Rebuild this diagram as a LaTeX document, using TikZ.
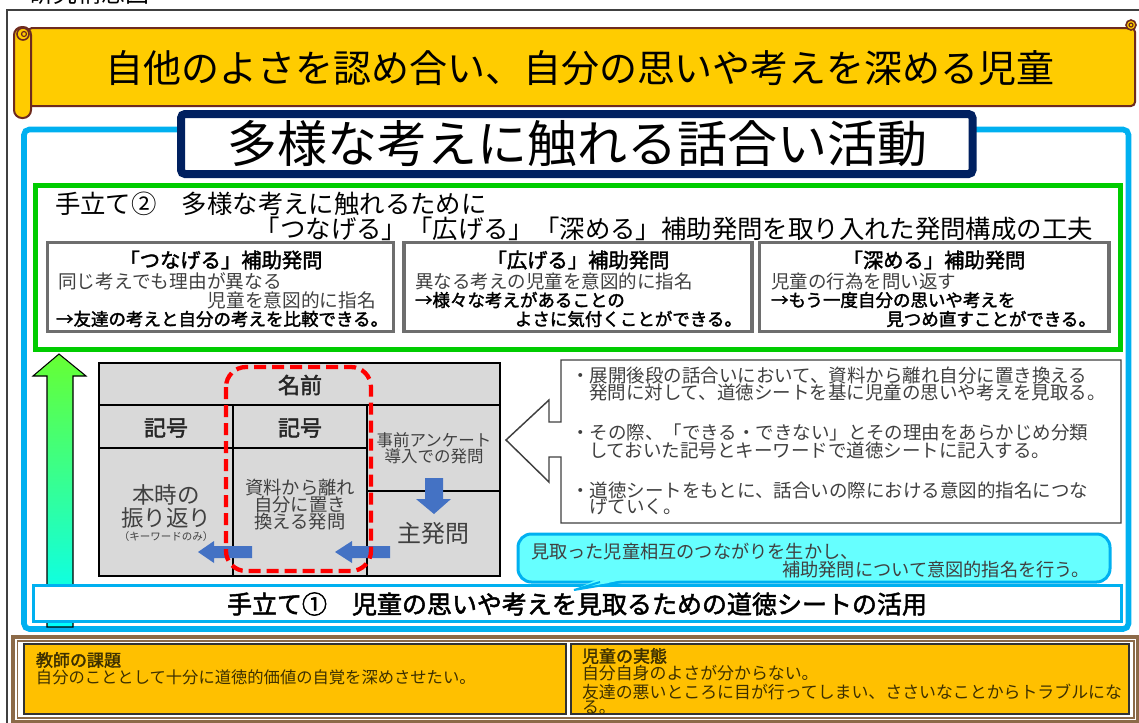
\documentclass[tikz,border=0pt]{standalone}
\usepackage{fontspec}
\setmainfont[AutoFakeBold=2]{Noto Sans CJK JP}
\newcommand\fpx[1]{\fontsize{\dimexpr #1pt*3/4\relax}{\dimexpr #1pt*9/10\relax}\selectfont}
\definecolor{banY}{HTML}{FFCC00}
\definecolor{banB}{HTML}{6E2B1E}
\definecolor{skyB}{HTML}{00B0F0}
\definecolor{navyB}{HTML}{002060}
\definecolor{grnB}{HTML}{00CC00}
\definecolor{tblG}{HTML}{D9D9D9}
\definecolor{arrB}{HTML}{4472C4}
\definecolor{calC}{HTML}{66FFFF}
\definecolor{botY}{HTML}{FFC000}
\definecolor{botB}{HTML}{8C6A48}
\definecolor{txtG}{HTML}{404040}
\definecolor{txtO}{HTML}{3D3000}
\definecolor{boxG}{HTML}{6E6E6E}
\definecolor{arrTop}{HTML}{66FF33}
\definecolor{arrBot}{HTML}{00FFFF}
\tikzset{
  every node/.style={inner sep=0pt, outer sep=0pt},
  tx/.style={text=txtG},
  bx/.style={text=black, font=\bfseries},
  ot/.style={text=txtO},
  grayframe/.style={boxG, line width=2.4pt},
  bluearrow/.style={fill=arrB, draw=none},
}
\begin{document}
\begin{tikzpicture}[x=0.75pt,y=-0.75pt]
\useasboundingbox (0,0) rectangle (1139,722);
% outer frame
\draw[black!75, line width=0.8pt] (7,10) rectangle (1150,740);
\node (head) at (89,-7) {\fpx{24}研究構想図};
% blue frame
\draw[skyB, line width=4.2pt, rounded corners=4pt] (24,129.5) rectangle (1128.5,629);
% banner
\draw[banB, fill=banY, line width=1.5pt, rounded corners=3pt] (28,28) rectangle (1135,106);
\draw[banB, fill=banY, line width=1.2pt] (1131,25) circle (5);
\draw[banB, line width=0.9pt] (1131,25) circle (2);
\draw[banB, fill=banY, line width=1.5pt, rounded corners=6pt] (14,27) rectangle (31,118);
\draw[banB, fill=banY, line width=1.2pt] (23,34) circle (6);
\draw[banB, line width=0.9pt] (24,34) circle (2.5);
\node (bantext) at (580,68) {\fpx{38}自他のよさを認め合い、自分の思いや考えを深める児童};
% title box
\draw[navyB, line width=6pt, fill=white, rounded corners=3pt] (181,114) rectangle (972.5,174);
\node (title) at (577,144) {\fpx{50}多様な考えに触れる話合い活動};
% green frame
\draw[grnB, line width=3.75pt] (35,185.5) rectangle (1120.5,349.5);
\node[anchor=west] (g1) at (55,204) {\fpx{25.4}手立て②　多様な考えに触れるために};
\node[anchor=east] (g2) at (1093,229) {\fpx{25.4}「つなげる」「広げる」「深める」補助発問を取り入れた発問構成の工夫};
% three boxes
\draw[grayframe] (47.5,242.5) rectangle (393.5,331.5);
\draw[grayframe] (404,242.5) rectangle (752,331.5);
\draw[grayframe] (759.5,242.5) rectangle (1109,331.5);
\node[bx] (t1) at (221,260) {\fpx{20.3}「つなげる」補助発問};
\node[bx] (t2) at (578,260) {\fpx{20.3}「広げる」補助発問};
\node[bx] (t3) at (934,260) {\fpx{20.3}「深める」補助発問};
\node[tx, anchor=west] (b1a) at (58,281) {\fpx{18.7}同じ考えでも理由が異なる};
\node[tx, anchor=east] (b1b) at (376,300) {\fpx{18.7}児童を意図的に指名};
\node[bx, anchor=west] (b1c) at (56,319) {\fpx{17.5}→友達の考えと自分の考えを比較できる。};
\node[tx, anchor=west] (b2a) at (415,281) {\fpx{18.5}異なる考えの児童を意図的に指名};
\node[bx, anchor=west] (b2b) at (415,300) {\fpx{17.5}→様々な考えがあることの};
\node[bx, anchor=east] (b2c) at (742,319) {\fpx{17.5}よさに気付くことができる。};
\node[tx, anchor=west] (b3a) at (771,281) {\fpx{18.5}児童の行為を問い返す};
\node[bx, anchor=west] (b3b) at (771,300) {\fpx{17.5}→もう一度自分の思いや考えを};
\node[bx, anchor=east] (b3c) at (1096,319) {\fpx{17.5}見つめ直すことができる。};
% gradient up arrow
\path[draw=black, line width=0.8pt, top color=arrTop, bottom color=arrBot]
  (59,354) -- (86,376) -- (73,376) -- (73,627) -- (47,627) -- (47,376) -- (33,376) -- cycle;
% table
\draw[black, fill=tblG, line width=1.6pt] (99,363) rectangle (500,576);
\draw[black, line width=1.1pt] (99,405) -- (500,405);
\draw[black, line width=1.1pt] (233,405) -- (233,576);
\draw[black, line width=1.1pt] (367,405) -- (367,576);
\draw[black, line width=1.1pt] (99,448) -- (367,448);
\draw[black, line width=1.1pt] (367,491) -- (500,491);
\node[bx, text=black!85] (name) at (300,385) {\fpx{22}名前};
\node[bx, text=black!85] (kigo1) at (166,428) {\fpx{22}記号};
\node[bx, text=black!85] (kigo2) at (300,428) {\fpx{22}記号};
\node[tx] (pre1) at (434,440) {\fpx{16.5}事前アンケート};
\node[tx] (pre2) at (434,456) {\fpx{16.5}導入での発問};
\node[tx] (main) at (433,533) {\fpx{24}主発問};
\node[tx] (refl1) at (166,495) {\fpx{22.5}本時の};
\node[tx] (refl2) at (166,518) {\fpx{22.5}振り返り};
\node[tx] (refl3) at (166,536) {\fpx{10.5}（キーワードのみ）};
\node[tx] (mat1) at (300,488) {\fpx{18.3}資料から離れ};
\node[tx] (mat2) at (300,505) {\fpx{18.3}自分に置き};
\node[tx] (mat3) at (300,522) {\fpx{18.3}換える発問};
\draw[bluearrow] (425,478) -- (443,478) -- (443,499) -- (451,499) -- (434,514) -- (416,499) -- (425,499) -- cycle;
\draw[bluearrow] (252,546) -- (214,546) -- (214,541) -- (198,552) -- (214,563) -- (214,558) -- (252,558) -- cycle;
\draw[bluearrow] (390,546) -- (352,546) -- (352,541) -- (335,552) -- (352,563) -- (352,558) -- (390,558) -- cycle;
\draw[red, line width=3.2pt, dash pattern=on 9pt off 4.5pt, rounded corners=15pt] (226,367) rectangle (371,571);
% block arrow with text
\draw[fill=white, draw=txtG, line width=1.1pt] (561,360) -- (1121,360) -- (1121,523) -- (561,523) -- (561,457) -- (549,457) -- (549,482) -- (506,440) -- (549,400) -- (549,422) -- (561,422) -- cycle;
\node[tx, anchor=west] (r1) at (571,375) {\fpx{18.5}・展開後段の話合いにおいて、資料から離れ自分に置き換える};
\node[tx, anchor=west] (r2) at (589,393) {\fpx{18.5}発問に対して、道徳シートを基に児童の思いや考えを見取る。};
\node[tx, anchor=west] (r3) at (571,432) {\fpx{18.5}・その際、「できる・できない」とその理由をあらかじめ分類};
\node[tx, anchor=west] (r4) at (589,450) {\fpx{18.5}しておいた記号とキーワードで道徳シートに記入する。};
\node[tx, anchor=west] (r5) at (571,490) {\fpx{18.5}・道徳シートをもとに、話合いの際における意図的指名につな};
\node[tx, anchor=west] (r6) at (589,507) {\fpx{18.5}げていく。};
% tebiki 1 box
\draw[skyB, fill=white, line width=2.25pt] (33.5,585.5) rectangle (1121,621);
\node[text=black] (te1) at (577,604) {\fpx{25}\bfseries 手立て①　児童の思いや考えを見取るための道徳シートの活用};
% callout
\draw[skyB, fill=calC, line width=2.25pt, rounded corners=10pt] (518,534) rectangle (1110,582);
\fill[calC] (596,580) -- (574,590) -- (622,580) -- cycle;
\draw[skyB, line width=1.5pt] (600,582) -- (574,590) -- (622,582);
\node[tx, anchor=west] (c1) at (531,552) {\fpx{18.2}見取った児童相互のつながりを生かし、};
\node[tx, anchor=east] (c2) at (1090,570) {\fpx{18.2}補助発問について意図的指名を行う。};
% bottom frame
\draw[botB, line width=2.4pt] (13,637) rectangle (1138,721.5);
\draw[botB, line width=0.8pt] (17.5,641) rectangle (1134,718);
\draw[fill=botY, draw=black!80, line width=1.1pt] (24,644) rectangle (566,714);
\draw[fill=botY, draw=black!80, line width=1.1pt] (571,644) rectangle (1129,714);
\node[ot, font=\bfseries, anchor=west] (ka) at (36,660) {\fpx{17}教師の課題};
\node[ot, anchor=west] (kb) at (36,677) {\fpx{16.3}自分のこととして十分に道徳的価値の自覚を深めさせたい。};
\node[ot, font=\bfseries, anchor=west] (ja) at (582,656) {\fpx{17}児童の実態};
\node[ot, anchor=west] (jb) at (582,673) {\fpx{16.9}自分自身のよさが分からない。};
\node[ot, anchor=west] (jc) at (582,692) {\fpx{16.9}友達の悪いところに目が行ってしまい、ささいなことからトラブルにな};
\node[ot, anchor=west] (jd) at (582,708) {\fpx{16.9}る。};
\end{tikzpicture}
\end{document}
